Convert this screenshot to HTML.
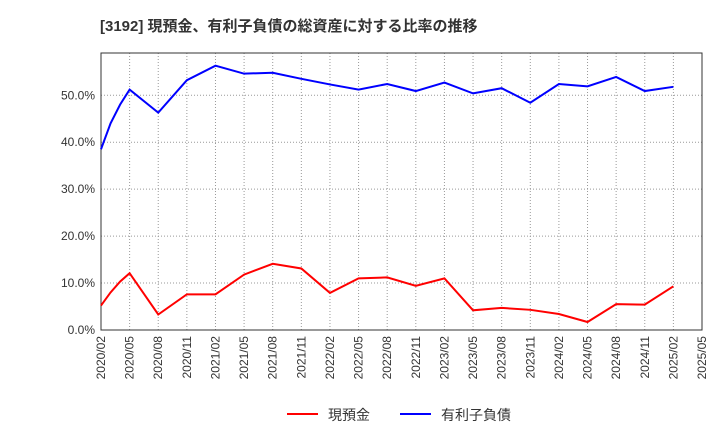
<!DOCTYPE html>
<html><head><meta charset="utf-8"><style>
body{margin:0;background:#fff;font-family:"Liberation Sans","Noto Sans CJK JP",sans-serif;}
</style></head><body>
<svg id="c" width="720" height="440" xmlns="http://www.w3.org/2000/svg">
<text x="100" y="31" font-size="15" font-weight="bold" fill="#333">[3192]  現預金、有利子負債の総資産に対する比率の推移</text>
<g id="grid"></g><g id="axes"></g><g id="lines"></g>
<g>
<line x1="287" y1="414" x2="318" y2="414" stroke="#f00" stroke-width="2"/>
<text x="328" y="420" font-size="14" fill="#333">現預金</text>
<line x1="400" y1="414" x2="431" y2="414" stroke="#00f" stroke-width="2"/>
<text x="441" y="420" font-size="14" fill="#333">有利子負債</text>
</g>
</svg>
<script>
const tickLabels=["2020/02","2020/05","2020/08","2020/11","2021/02","2021/05","2021/08","2021/11","2022/02","2022/05","2022/08","2022/11","2023/02","2023/05","2023/08","2023/11","2024/02","2024/05","2024/08","2024/11","2025/02","2025/05"];
const yTicks=[0,10,20,30,40,50];
const months=[0,1,2,3,6,9,12,15,18,21,24,27,30,33,36,39,42,45,48,51,54,57,60];
const cash=[5.2,8.0,10.3,12.1,3.3,7.6,7.6,11.8,14.1,13.1,7.9,11.0,11.2,9.4,11.0,4.2,4.7,4.3,3.4,1.7,5.5,5.4,9.3];
const debt=[38.5,44.0,48.0,51.2,46.3,53.2,56.3,54.6,54.8,53.5,52.3,51.2,52.4,50.9,52.7,50.4,51.5,48.4,52.4,51.9,53.9,50.9,51.8];
const L=101,R=702,T=53,B=330,NS="http://www.w3.org/2000/svg";
const x=m=>L+(R-L)*m/63, y=v=>B-(B-T)*v/59;
function mk(tag,a,p){const e=document.createElementNS(NS,tag);for(const k in a)e.setAttribute(k,a[k]);p.appendChild(e);return e;}
const g=document.getElementById('grid'),ax=document.getElementById('axes'),ln=document.getElementById('lines');
yTicks.forEach(v=>{
 const l=mk('line',{x1:L,x2:R,y1:y(v),y2:y(v),stroke:'#999','stroke-dasharray':'1,2'},g);
 
 
 const t=mk('text',{x:L-6,y:y(v)+4,'font-size':12,'text-anchor':'end',fill:'#333'},ax);t.textContent=v.toFixed(1)+'%';
 
 
});
tickLabels.forEach((s,i)=>{
 const xx=x(i*3);
 const l=mk('line',{x1:xx,x2:xx,y1:T,y2:B,stroke:'#999','stroke-dasharray':'1,2'},g);
 
 
 const t=mk('text',{x:xx+4,y:B+6,'font-size':12,'text-anchor':'end',fill:'#333',transform:`rotate(-90 ${xx+4} ${B+6})`},ax);t.textContent=s;
 
 
});
const fr=mk('rect',{x:L,y:T,width:R-L,height:B-T,fill:'none',stroke:'#333'},ax);


function line(vals,col,name){
 const p=mk('polyline',{points:vals.map((v,i)=>x(months[i])+','+y(v)).join(' '),fill:'none',stroke:col,'stroke-width':2},ln);
 
 
}
line(cash,'#f00','cash-line');
line(debt,'#00f','debt-line');
</script>
</body></html>
